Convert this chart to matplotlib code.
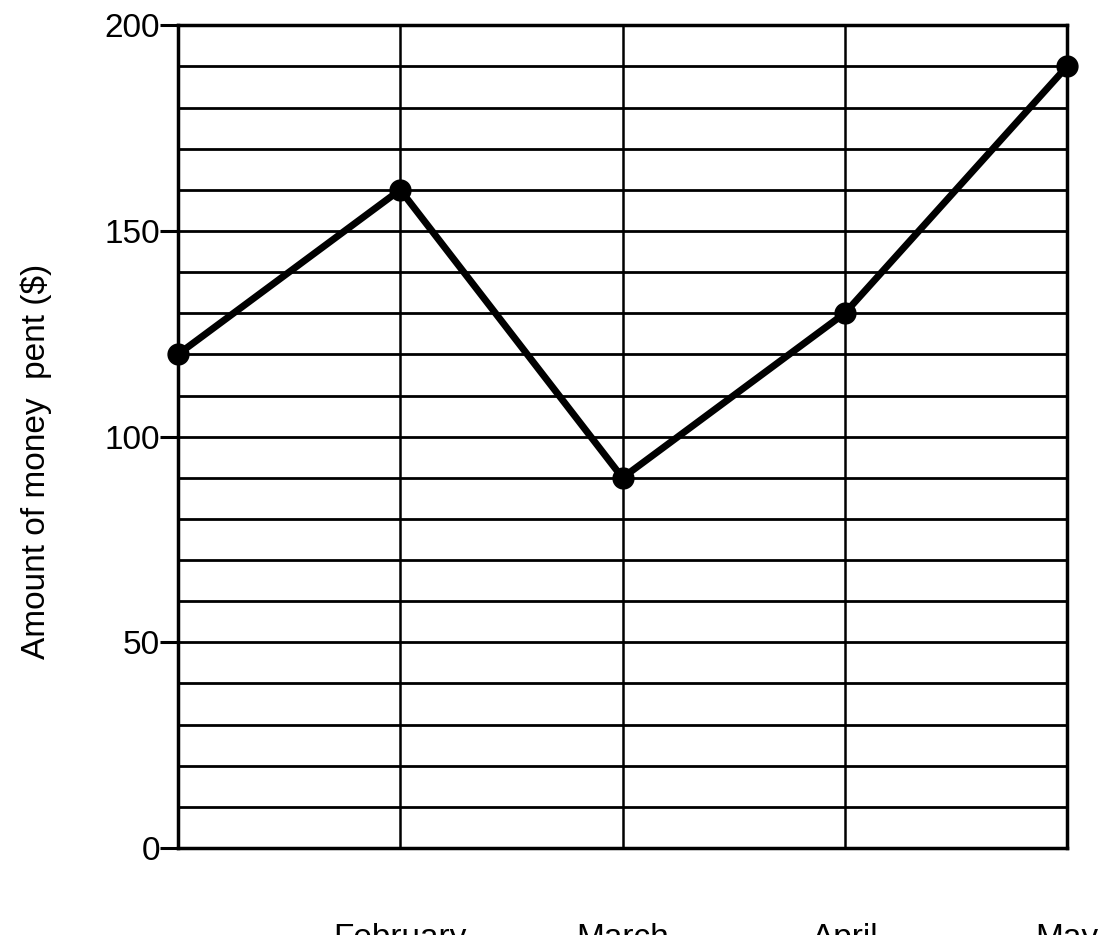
import numpy as np
import matplotlib
matplotlib.use("Agg")
import matplotlib.pyplot as plt

# Monthly spending
months = ["", "February", "March", "April", "May"]
amounts = [120, 160, 90, 130, 190]
y_ticks = [0, 50, 100, 150, 200]

plt.rcParams["font.family"] = ["Liberation Sans", "DejaVu Sans"]

fig = plt.figure(figsize=(11.15, 9.35), dpi=100)
ax = fig.add_axes([0.1596, 0.093, 0.957 - 0.1596, 0.973 - 0.093])

x = np.arange(len(months))
ax.plot(x, amounts, color="black", linewidth=5, marker="o",
        markersize=15, zorder=3, clip_on=False)

# grid: horizontal lines every 10, vertical line at every month
for v in range(10, 200, 10):
    ax.axhline(v, color="black", linewidth=2.0, zorder=1)
for xv in x[1:-1]:
    ax.axvline(xv, color="black", linewidth=1.8, zorder=1)

ax.set_xlim(0, len(months) - 1)
ax.set_ylim(0, 200)
ax.set_yticks(y_ticks)
ax.set_yticklabels([str(t) for t in y_ticks], fontsize=24)
ax.set_xticks(x)
ax.set_xticklabels(months, fontsize=24)
ax.tick_params(axis="y", length=13, width=2.2, pad=0)
ax.tick_params(axis="x", length=0, pad=54)

for s in ax.spines.values():
    s.set_linewidth(2.5)

ax.set_ylabel("Amount of money  pent ($)", fontsize=24)
ax.yaxis.set_label_coords(-0.142, 0.47)

fig.savefig("out.png", dpi=100)
